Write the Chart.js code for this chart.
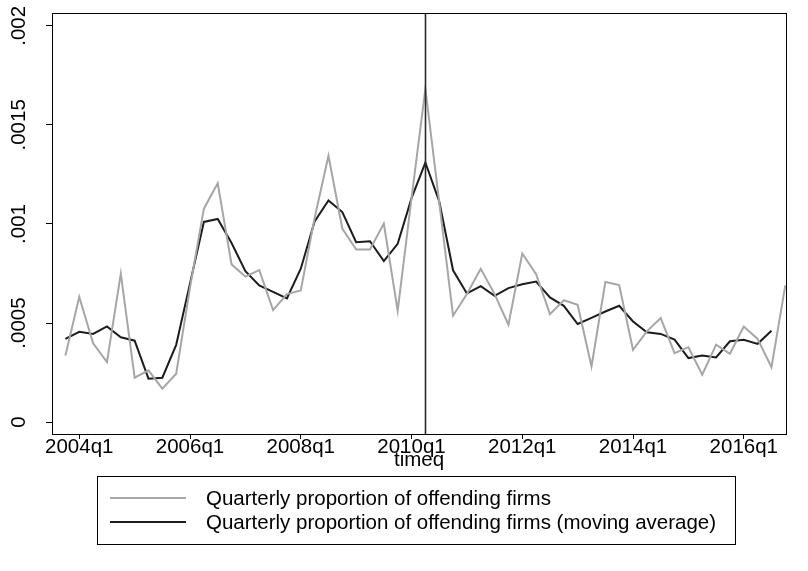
<!DOCTYPE html>
<html>
<head>
<meta charset="utf-8">
<script src="https://cdn.jsdelivr.net/npm/chart.js@4.4.0/dist/chart.umd.min.js"></script>
<style>
  html, body { margin: 0; padding: 0; background: #fff; }
  #wrap { position: relative; width: 808px; height: 571px; overflow: hidden; }
  #legend {
    position: absolute; left: 97px; top: 476px; width: 639px; height: 69px;
    border: 1px solid #000; box-sizing: border-box;
    font-family: "Liberation Sans", Arial, sans-serif; font-size: 20.5px; color: #000;
  }
  #legend .item { position: absolute; left: 12px; height: 24px; display: flex; align-items: center; white-space: nowrap; }
  #legend .swatch { width: 76px; margin-right: 20px; }
</style>
</head>
<body>
<div id="wrap">
  <canvas id="chart" width="808" height="571"></canvas>
  <div id="legend"></div>
</div>
<script>
// quarters 2003q4 .. 2016q4
const quarters = [
  '2003q4',
  '2004q1', '2004q2', '2004q3', '2004q4',
  '2005q1', '2005q2', '2005q3', '2005q4',
  '2006q1', '2006q2', '2006q3', '2006q4',
  '2007q1', '2007q2', '2007q3', '2007q4',
  '2008q1', '2008q2', '2008q3', '2008q4',
  '2009q1', '2009q2', '2009q3', '2009q4',
  '2010q1', '2010q2', '2010q3', '2010q4',
  '2011q1', '2011q2', '2011q3', '2011q4',
  '2012q1', '2012q2', '2012q3', '2012q4',
  '2013q1', '2013q2', '2013q3', '2013q4',
  '2014q1', '2014q2', '2014q3', '2014q4',
  '2015q1', '2015q2', '2015q3', '2015q4',
  '2016q1', '2016q2', '2016q3', '2016q4'
];

const offending = [
  .000336,
  .000632, .000398, .000303, .000749,
  .000224, .000261, .000169, .000244,
  .00068, .001077, .001205, .000796,
  .000734, .000767, .000565, .000646,
  .000664, .00103, .001344, .000977,
  .000871, .000871, .001002, .000562,
  .00113, .001682, .00111, .000537,
  .000646, .000774, .000646, .000492,
  .000851, .000746, .000545, .000615,
  .000592, .000281, .000707, .000692,
  .000365, .000458, .000525, .000348,
  .000378, .000239, .000391, .000345,
  .000482, .00042, .000277, .00069
];

const movingAvg = [
  .00042,
  .000456, .000445, .000483, .000428,
  .000411, .000219, .000224, .00039,
  .0007, .00101, .001025, .000904,
  .000762, .00069, .000657, .000624,
  .000774, .001013, .001119, .00106,
  .000908, .000913, .000813, .0009,
  .00113, .00131, .001114, .000766,
  .000649, .000686, .000637, .000676,
  .000696, .000709, .000629, .000587,
  .000495, .000526, .000558, .000587,
  .000508, .000453, .000445, .000416,
  .000323, .000336, .000326, .000408,
  .000416, .000395, .000461, null
];

const xTickLabels = ['2004q1', '2006q1', '2008q1', '2010q1', '2012q1', '2014q1', '2016q1'];
const yTickValues = [0, .0005, .001, .0015, .002];
const yTickLabels = ['0', '.0005', '.001', '.0015', '.002'];
const eventQuarter = '2010q2';

// stata style quarter number, 1960q1 = 0
const toTq = s => (parseInt(s.slice(0, 4)) - 1960) * 4 + parseInt(s.slice(5)) - 1;
const fromTq = v => (1960 + Math.floor(v / 4)) + 'q' + (v % 4 + 1);

const FONT = '"Liberation Sans", Arial, sans-serif';

const plotFrame = {
  id: 'plotFrame',
  afterDatasetsDraw(chart) {
    const { ctx, chartArea: a, scales: { x } } = chart;
    ctx.save();
    // event line
    const px = Math.round(x.getPixelForValue(toTq(eventQuarter))) + 0.5;
    ctx.strokeStyle = '#2a2a2a';
    ctx.lineWidth = 1.6;
    ctx.beginPath();
    ctx.moveTo(px, a.top);
    ctx.lineTo(px, a.bottom);
    ctx.stroke();
    // box
    ctx.strokeStyle = '#000';
    ctx.lineWidth = 1;
    ctx.strokeRect(Math.round(a.left) + 0.5, Math.round(a.top) + 0.5,
      Math.round(a.right - a.left), Math.round(a.bottom - a.top));
    ctx.restore();
  }
};

const htmlLegend = {
  id: 'htmlLegend',
  afterUpdate(chart) {
    const box = document.getElementById('legend');
    box.innerHTML = '';
    chart.data.datasets.forEach((ds, i) => {
      const item = document.createElement('div');
      item.className = 'item';
      item.style.top = (9 + i * 24) + 'px';
      const sw = document.createElement('span');
      sw.className = 'swatch';
      sw.style.borderTop = ds.borderWidth + 'px solid ' + ds.borderColor;
      const txt = document.createElement('span');
      txt.textContent = ds.label;
      item.appendChild(sw);
      item.appendChild(txt);
      box.appendChild(item);
    });
  }
};

new Chart(document.getElementById('chart'), {
  type: 'line',
  data: {
    datasets: [{
      label: 'Quarterly proportion of offending firms',
      data: quarters.map((q, i) => ({ x: toTq(q), y: offending[i] })),
      borderColor: '#a6a6a6',
      borderWidth: 2,
      pointRadius: 0,
      tension: 0
    }, {
      label: 'Quarterly proportion of offending firms (moving average)',
      data: quarters.map((q, i) => ({ x: toTq(q), y: movingAvg[i] })),
      borderColor: '#1c1c1c',
      borderWidth: 2,
      pointRadius: 0,
      tension: 0,
      spanGaps: false
    }]
  },
  options: {
    responsive: false,
    animation: false,
    devicePixelRatio: 1,
    layout: { padding: { top: 11, right: 22, bottom: 98, left: 0 } },
    plugins: {
      legend: { display: false },
      tooltip: { enabled: false }
    },
    scales: {
      x: {
        type: 'linear',
        min: toTq('2003q3') + 0.03,
        max: toTq('2016q4') + 0.05,
        afterBuildTicks: s => { s.ticks = xTickLabels.map(l => ({ value: toTq(l) })); },
        afterFit: s => { s.height = 39; },
        ticks: {
          callback: v => fromTq(v),
          color: '#000',
          font: { family: FONT, size: 20.5 },
          padding: -4,
          maxRotation: 0,
          autoSkip: false
        },
        grid: { drawOnChartArea: false, drawTicks: true, tickLength: 5, color: '#000' },
        border: { display: true, color: '#000', width: 1 },
        title: {
          display: true,
          text: 'timeq',
          color: '#000',
          font: { family: FONT, size: 20.5 },
          padding: 0
        }
      },
      y: {
        min: -0.00006,
        max: 0.002063,
        afterBuildTicks: s => { s.ticks = yTickValues.map(v => ({ value: v })); },
        afterFit: s => { s.width = 52; },
        ticks: {
          callback: (v, i) => yTickLabels[i],
          color: '#000',
          font: { family: FONT, size: 20.5 },
          minRotation: 90,
          maxRotation: 90,
          crossAlign: 'center',
          padding: 1
        },
        grid: { drawOnChartArea: false, drawTicks: true, tickLength: 6, color: '#000' },
        border: { display: true, color: '#000', width: 1 }
      }
    }
  },
  plugins: [plotFrame, htmlLegend]
});
</script>
</body>
</html>
